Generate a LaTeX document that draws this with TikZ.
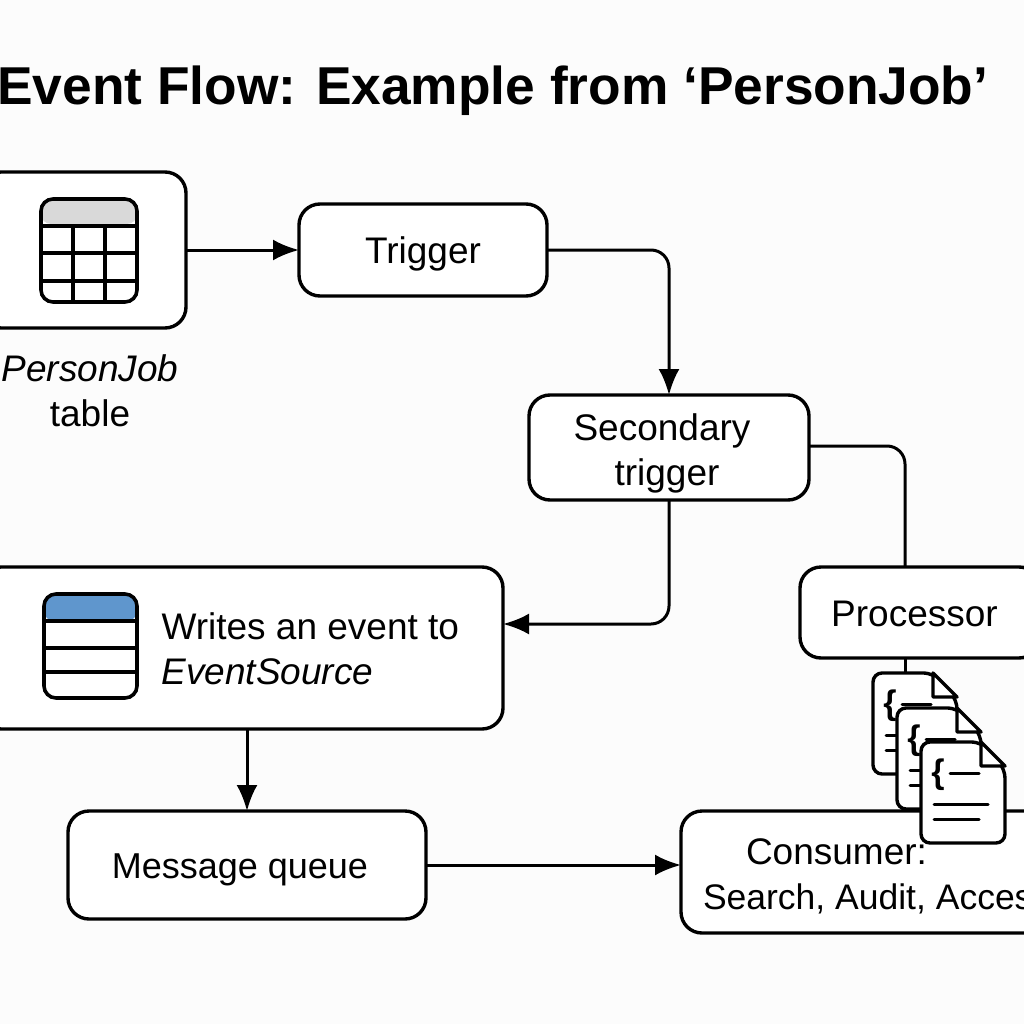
\documentclass[tikz,border=0pt]{standalone}
\usepackage{fontspec}
\setmainfont{Liberation Sans}
\usetikzlibrary{arrows.meta}
\tikzset{
  box/.style={draw, line width=3.4pt, rounded corners=21pt, fill=white, anchor=north west, align=center,
    outer sep=0pt, text height=27pt, text depth=0pt, font=\fontsize{37}{45}\selectfont},
  twolines/.style={text height=75pt, text depth=0pt},
  flow/.style={line width=3pt, rounded corners=18pt, -{Latex[length=26pt,width=21pt]}},
  link/.style={line width=3pt, rounded corners=18pt},
  label/.style={align=center, font=\fontsize{37}{45}\selectfont},
  icon/.style={line width=3.6pt, rounded corners=12pt},
  docline/.style={line width=3pt, line cap=round},
  docsheet/.pic={
    \draw[line width=3.4pt, fill=white, rounded corners=9pt] (0,0) -- (60,0) -- (84,27) -- (84,101) -- (0,101) -- cycle;
    \draw[line width=3.4pt, fill=white, line join=round] (60,0) -- (60,24) -- (84,24) -- cycle;
    \node[font=\fontsize{34}{34}\selectfont\bfseries, inner sep=0pt] at (17,33) {\{};
    \draw[docline] (29,31) -- (58,31);
    \draw[docline] (13,62) -- (67,62);
    \draw[docline] (13,77) -- (58,77);
  }
}
\begin{document}
\begin{tikzpicture}[x=1pt, y=-1pt]
\useasboundingbox (0,0) rectangle (1024,1024);
\clip (0,0) rectangle (1024,1024);
\fill[black!1] (0,0) rectangle (1024,1024);
\node[anchor=west, inner sep=0pt, font=\fontsize{53.3}{60}\selectfont\bfseries] (title) at (-3,91) {Event Flow: Example from ‘PersonJob’};
% boxes
\node[box, minimum width=206pt, minimum height=156pt] (source) at (-20,172) {};
\node[box, minimum width=248pt, minimum height=92pt] (trigger) at (299,204) {Trigger};
\node[box, twolines, minimum width=280pt, minimum height=105pt] (secondary) at (529,395) {Secondary\hspace*{14pt}\\trigger\hspace*{4pt}};
\node[box, minimum width=523pt, minimum height=162pt] (writes) at (-20,567) {};
\node[box, minimum width=240pt, minimum height=91pt] (processor) at (800,567) {Processor\hspace*{11pt}};
\node[box, minimum width=358pt, minimum height=108pt, font=\fontsize{36}{45}\selectfont] (queue) at (68,811) {Message queue\hspace*{14pt}};
\node[box, twolines, minimum width=380pt, minimum height=122pt, align=left, inner xsep=22pt] (consumer) at (681,811) {\hspace*{43pt}Consumer:\\\fontsize{35.5}{45}\selectfont Search, Audit, Access};
\node[label] (sourcelabel) at (90,391) {\textit{PersonJob}\\table};
\node[label, anchor=west, align=left] (writeslabel) at (158,649) {Writes an event to\\\textit{EventSource}};
% table icon
\fill[black!15, rounded corners=10pt] (41,199) -- (137,199) -- (137,224) -- (41,224) -- cycle;
\draw[icon] (41,199) rectangle (137,302);
\draw[line width=3.6pt] (41,226) -- (137,226) (41,253) -- (137,253) (41,281) -- (137,281) (73,226) -- (73,302) (105,226) -- (105,302);
% event icon
\fill[fill={rgb,255:red,95;green,150;blue,205}, rounded corners=10pt] (44,594) -- (137,594) -- (137,621) -- (44,621) -- cycle;
\draw[icon] (44,594) rectangle (137,698);
\draw[line width=3.6pt] (44,621) -- (137,621) (44,648) -- (137,648) (44,672) -- (137,672);
% connectors
\coordinate (writesin) at (writes.east |- 0,624);
\coordinate (secondout) at (secondary.east |- 0,446);
\coordinate (queueout) at (queue.east |- 0,865);
\coordinate (consumerin) at (consumer.west |- 0,865);
\draw[flow] (source.east) -- (trigger.west);
\draw[flow] (trigger.east) -- (669,250) -- (secondary.north -| 669,0);
\draw[flow] (secondary.south -| 669,0) -- (669,624) -- (writesin);
\draw[link] (secondout) -- (905,446) -- (processor.north -| 905,0);
\draw[flow] (writes.south -| 247,0) -- (queue.north -| 247,0);
\draw[flow] (queueout) -- (consumerin);
\draw[link] (processor.south -| 905,0) -- (905,674);
% docs
\pic at (873,673) {docsheet};
\pic at (897,708) {docsheet};
\pic at (921,742) {docsheet};
\end{tikzpicture}
\end{document}
